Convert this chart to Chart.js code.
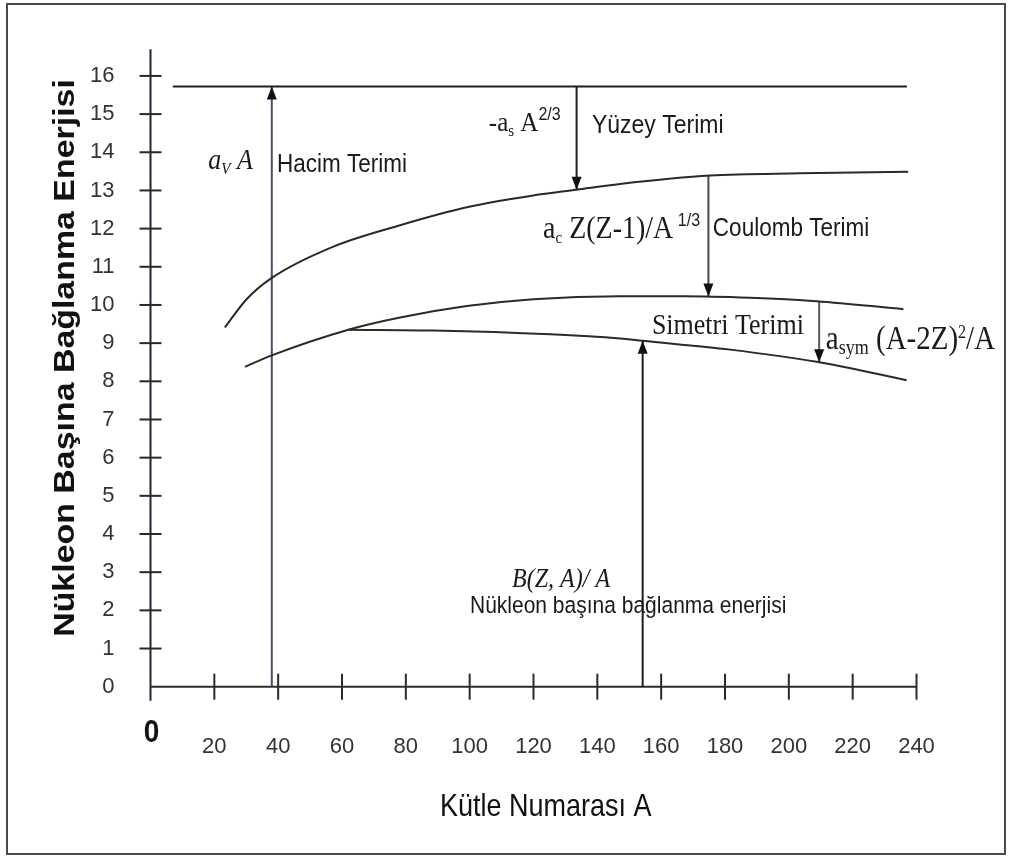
<!DOCTYPE html>
<html lang="tr">
<head>
<meta charset="utf-8">
<title>Nükleon başına bağlanma enerjisi</title>
<script src="https://cdn.jsdelivr.net/npm/chart.js@4.4.1/dist/chart.umd.min.js"></script>
<style>
  html, body { margin: 0; padding: 0; background: #fff; }
  canvas { display: block; }
</style>
</head>
<body>
<canvas id="semfChart" width="1011" height="856"></canvas>
<script>
// ---- Data ----

const xTicks = [0, 20, 40, 60, 80, 100, 120, 140, 160, 180, 200, 220, 240];
const yTicks = [0, 1, 2, 3, 4, 5, 6, 7, 8, 9, 10, 11, 12, 13, 14, 15, 16];

// hacim terimi (düz çizgi)
const volumeA = [7, 237];
const volumeE = [15.72, 15.72];

// yüzey terimi düşüldükten sonra
const surfaceA = [23.3, 30.1, 38.0, 57.3, 78.2, 99.1, 119.9, 133.5, 147.1, 175.3, 203.5, 237.4];
const surfaceE = [9.41, 10.15, 10.71, 11.53, 12.09, 12.56, 12.87, 13.02, 13.17, 13.39, 13.45, 13.49];

// coulomb terimi düşüldükten sonra
const coulombA = [29.6, 38.0, 62.0, 78.2, 99.1, 119.9, 147.1, 166.9, 187.8, 208.7, 235.9];
const coulombE = [8.38, 8.68, 9.35, 9.67, 9.97, 10.15, 10.23, 10.23, 10.19, 10.10, 9.89];

// simetri terimi düşüldükten sonra: B/A
const bindingA = [62.0, 88.6, 125.3, 147.1, 154.2, 181.6, 208.7, 236.9];
const bindingE = [9.35, 9.33, 9.23, 9.12, 9.06, 8.83, 8.51, 8.03];

// oklar: konum, başlangıç, uç
const arrowA    = [38.0, 133.5, 174.8, 209.5, 154.2];
const arrowFrom = [0, 15.72, 13.39, 10.10, 0];
const arrowTo   = [15.72, 13.02, 10.22, 8.50, 9.06];
const arrowColor = ['#4a4a6a', '#1e1e1e', '#4a4a3a', '#5a5a5a', '#1e1e1e'];

// ---- Styling ----

const SANS = '"Liberation Sans", Arial, sans-serif';
const SERIF = '"Liberation Serif", "Times New Roman", serif';
const STRETCH = 1.13; // the original lettering is a bit taller than wide

function pts(xs, ys) {
    return xs.map((x, i) => ({ x: x, y: ys[i] }));
}

const curveStyle = {
    borderColor: '#2b2b22',
    borderWidth: 2,
    pointRadius: 0,
    fill: false,
    cubicInterpolationMode: 'monotone',
};

const datasets = [
    Object.assign({ data: pts(volumeA, volumeE) }, curveStyle, { borderColor: '#1e1e1e' }),
    Object.assign({ data: pts(surfaceA, surfaceE) }, curveStyle),
    Object.assign({ data: pts(coulombA, coulombE) }, curveStyle),
    Object.assign({ data: pts(bindingA, bindingE) }, curveStyle),
];
arrowA.forEach((a, i) => {
    datasets.push({
        data: [{ x: a, y: arrowFrom[i] }, { x: a, y: arrowTo[i] }],
        borderColor: arrowColor[i],
        borderWidth: 2,
        pointRadius: 0,
        fill: false,
        arrowHead: arrowTo[i] > arrowFrom[i] ? 'up' : 'down',
    });
});

// ---- Text annotations (data coordinates, baseline) ----

const notes = [
    { a: 18.1, e: 13.57, parts: [['a', 'italic 26px ' + SERIF], ['V', 'italic 15px ' + SERIF, 5], [' A', 'italic 26px ' + SERIF]] },
    { a: 39.6, e: 13.49, parts: [['Hacim Terimi', '22.5px ' + SANS]] },
    { a: 106.0, e: 14.55, parts: [['-a', '25px ' + SERIF], ['s', '15px ' + SERIF, 5], [' A', '25px ' + SERIF], ['2/3', '16px ' + SANS, -11]] },
    { a: 138.3, e: 14.50, parts: [['Yüzey Terimi', '23px ' + SANS]] },
    { a: 123.0, e: 11.75, parts: [['a', '28px ' + SERIF], ['c', '15px ' + SERIF, 5], [' Z(Z-1)/A', '28px ' + SERIF], [' 1/3', '16px ' + SANS, -12]] },
    { a: 176.2, e: 11.81, parts: [['Coulomb Terimi', '22.5px ' + SANS]] },
    { a: 157.1, e: 9.24, parts: [['Simetri Terimi', '26px ' + SERIF]] },
    { a: 211.6, e: 8.85, parts: [['a', '29px ' + SERIF], ['sym', '18px ' + SERIF, 5], [' (A-2Z)', '29px ' + SERIF], ['2', '16px ' + SERIF, -11], ['/A', '29px ' + SERIF]] },
    { a: 113.3, e: 2.61, parts: [['B(Z, A)/ A', 'italic 24px ' + SERIF]] },
    { a: 100.1, e: 1.93, parts: [['Nükleon başına bağlanma enerjisi', '21px ' + SANS]] },
];

function drawRun(ctx, x, y, parts) {
    let cx = x;
    parts.forEach(([t, font, dy]) => {
        ctx.font = font;
        ctx.save();
        ctx.translate(cx, y + (dy || 0));
        ctx.scale(1, STRETCH);
        ctx.fillText(t, 0, 0);
        ctx.restore();
        cx += ctx.measureText(t).width;
    });
}

function line(ctx, x1, y1, x2, y2) {
    ctx.beginPath();
    ctx.moveTo(x1, y1);
    ctx.lineTo(x2, y2);
    ctx.stroke();
}

const diagramPlugin = {
    id: 'diagram',
    beforeDraw(chart) {
        const ctx = chart.ctx;
        ctx.save();
        ctx.fillStyle = '#fff';
        ctx.fillRect(0, 0, chart.width, chart.height);
        // çerçeve
        ctx.strokeStyle = '#4a4a4a';
        ctx.lineWidth = 2;
        ctx.strokeRect(7, 4, chart.width - 13, chart.height - 6);
        ctx.restore();
    },
    beforeDatasetsDraw(chart) {
        const ctx = chart.ctx;
        const xs = chart.scales.x, ys = chart.scales.y;
        const x0 = xs.getPixelForValue(0), y0 = ys.getPixelForValue(0);
        ctx.save();
        ctx.lineWidth = 2;
        // eksenler
        ctx.strokeStyle = '#22223a';
        line(ctx, x0, ys.getPixelForValue(ys.max), x0, y0 + 14);
        ctx.strokeStyle = '#253025';
        line(ctx, x0, y0, xs.getPixelForValue(xTicks[xTicks.length - 1]), y0);
        // çapraz çentikler
        ctx.strokeStyle = '#2a2a22';
        yTicks.slice(1).forEach(v => {
            const py = ys.getPixelForValue(v);
            line(ctx, x0 - 11, py, x0 + 11, py);
        });
        xTicks.slice(1).forEach(v => {
            const px = xs.getPixelForValue(v);
            line(ctx, px, y0 - 13, px, y0 + 13);
        });
        ctx.restore();
    },
    afterDatasetsDraw(chart) {
        const ctx = chart.ctx;
        const xs = chart.scales.x, ys = chart.scales.y;
        ctx.save();
        // ok başları
        chart.data.datasets.forEach((ds, i) => {
            if (!ds.arrowHead) return;
            const tip = chart.getDatasetMeta(i).data[1];
            const dir = ds.arrowHead === 'up' ? 1 : -1;
            ctx.fillStyle = '#111';
            ctx.beginPath();
            ctx.moveTo(tip.x, tip.y);
            ctx.lineTo(tip.x - 5, tip.y + dir * 13);
            ctx.lineTo(tip.x + 5, tip.y + dir * 13);
            ctx.closePath();
            ctx.fill();
        });
        // açıklamalar
        ctx.fillStyle = '#1a1a1a';
        ctx.textBaseline = 'alphabetic';
        ctx.textAlign = 'left';
        notes.forEach(n => {
            drawRun(ctx, xs.getPixelForValue(n.a), ys.getPixelForValue(n.e), n.parts);
        });
        // büyük sıfır
        ctx.textAlign = 'center';
        ctx.fillStyle = '#111';
        drawRun(ctx, xs.getPixelForValue(0) + 1, ys.getPixelForValue(0) + 55, [['0', 'bold 28px ' + SANS]]);
        // eksen başlıkları
        ctx.textAlign = 'left';
        drawRun(ctx, 440, 816, [['Kütle Numarası A', '27px ' + SANS]]);
        ctx.translate(66, 358);
        ctx.rotate(-Math.PI / 2);
        ctx.scale(STRETCH, 1);
        ctx.textAlign = 'center';
        ctx.textBaseline = 'middle';
        ctx.font = 'bold 30px ' + SANS;
        ctx.fillText('Nükleon Başına Bağlanma Enerjisi', 0, 0);
        ctx.restore();
    },
};

new Chart(document.getElementById('semfChart'), {
    type: 'line',
    data: { datasets: datasets },
    options: {
        responsive: false,
        animation: false,
        devicePixelRatio: 1,
        layout: { padding: { left: 0, right: 94.5, top: 43, bottom: 69.3 } },
        plugins: {
            legend: { display: false },
            tooltip: { enabled: false },
        },
        scales: {
            x: {
                type: 'linear',
                min: 0,
                max: 240,
                afterBuildTicks: s => { s.ticks = xTicks.map(v => ({ value: v })); },
                afterFit: s => { s.height = 100; },
                grid: { display: false, drawTicks: false },
                border: { display: false },
                ticks: {
                    padding: 47,
                    color: '#333',
                    font: { family: SANS, size: 22 },
                    maxRotation: 0,
                    autoSkip: false,
                    callback: v => (v === 0 ? '' : v),
                },
            },
            y: {
                type: 'linear',
                min: 0,
                max: 16.7,
                afterBuildTicks: s => { s.ticks = yTicks.map(v => ({ value: v })); },
                afterFit: s => { s.width = 150.5; },
                grid: { display: false, drawTicks: false },
                border: { display: false },
                ticks: {
                    padding: 36,
                    color: '#333',
                    font: { family: SANS, size: 22 },
                    autoSkip: false,
                },
            },
        },
    },
    plugins: [diagramPlugin],
});
</script>
</body>
</html>
